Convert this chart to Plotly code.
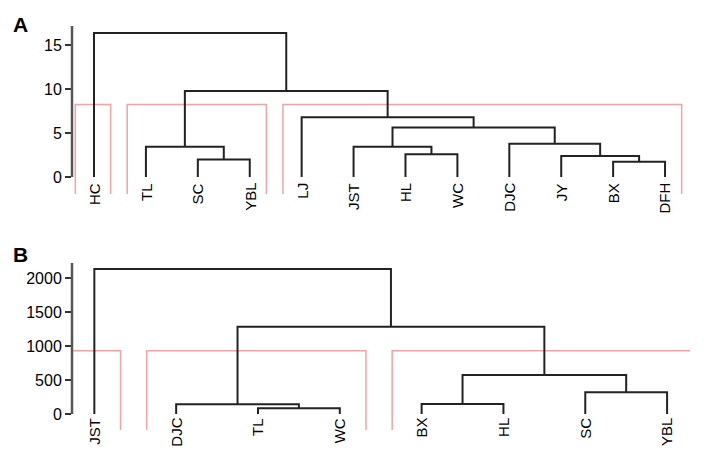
import plotly.graph_objects as go

# page has an 8px body margin; the figure fills the rest of the 710x452 window
OFF = 8
W, H = 710 - OFF, 452 - OFF

# ---------------- Data: panel A ----------------
leaves_A = ["HC", "TL", "SC", "YBL", "LJ", "JST", "HL", "WC", "DJC", "JY", "BX", "DFH"]
# merges: (left child, right child, height); indices >= n refer to earlier merges
merge_left_A = [2, 10, 9, 6, 1, 5, 8, 17, 4, 16, 0]
merge_right_A = [3, 11, 13, 7, 12, 15, 14, 18, 19, 20, 21]
merge_height_A = [2.0, 1.75, 2.4, 2.6, 3.45, 3.45, 3.8, 5.65, 6.8, 9.8, 16.4]
cut_A = 8.26
groups_A = [(0, 0), (1, 3), (4, 11)]
ticks_A = [0, 5, 10, 15]

# ---------------- Data: panel B ----------------
leaves_B = ["JST", "DJC", "TL", "WC", "BX", "HL", "SC", "YBL"]
merge_left_B = [2, 1, 4, 6, 10, 9, 0]
merge_right_B = [3, 8, 5, 7, 11, 12, 13]
merge_height_B = [84, 143, 147, 320, 575, 1287, 2137]
cut_B = 933
groups_B = [(0, 0), (1, 3), (4, 7)]
ticks_B = [0, 500, 1000, 1500, 2000]


def px_x(p):
    return (p - OFF) / W


def px_y(p):
    return 1 - (p - OFF) / H


def dendro_xy(leaves, left, right, heights):
    n = len(leaves)
    pos = [5 + 10 * i for i in range(n)]
    hts = [0.0] * n
    xs, ys = [], []
    for l, r, h in zip(left, right, heights):
        xl, xr = pos[l], pos[r]
        xs += [xl, xl, xr, xr, None]
        ys += [hts[l], h, h, hts[r], None]
        pos.append((xl + xr) / 2)
        hts.append(h)
    return xs, ys


def cut_xy(groups, cut, ybot):
    xs, ys = [], []
    for a, b in groups:
        x0 = 5 + 10 * a - 3.6
        x1 = 5 + 10 * b + 3.2
        xs += [x0, x0, x1, x1, None]
        ys += [ybot, cut, cut, ybot, None]
    return xs, ys


DARK = "#222222"
RED = "#f4a3a3"
FONT = "Liberation Sans, Arial, sans-serif"

fig = go.Figure()

yrA = [-1.93, 17.2]
yrB = [-236, 2230]

cx, cy = cut_xy(groups_A, cut_A, yrA[0] - 5)
fig.add_trace(go.Scatter(x=cx, y=cy, mode="lines", line=dict(color=RED, width=1.5),
                         xaxis="x", yaxis="y", hoverinfo="skip", showlegend=False))
cx, cy = cut_xy(groups_B, cut_B, yrB[0] - 500)
fig.add_trace(go.Scatter(x=cx, y=cy, mode="lines", line=dict(color=RED, width=1.5),
                         xaxis="x2", yaxis="y2", hoverinfo="skip", showlegend=False))

dx, dy = dendro_xy(leaves_A, merge_left_A, merge_right_A, merge_height_A)
fig.add_trace(go.Scatter(x=dx, y=dy, mode="lines", line=dict(color=DARK, width=2),
                         xaxis="x", yaxis="y", hoverinfo="skip", showlegend=False))
dx, dy = dendro_xy(leaves_B, merge_left_B, merge_right_B, merge_height_B)
fig.add_trace(go.Scatter(x=dx, y=dy, mode="lines", line=dict(color=DARK, width=2),
                         xaxis="x2", yaxis="y2", hoverinfo="skip", showlegend=False))

annotations = []
for i, name in enumerate(leaves_A):
    annotations.append(dict(x=5 + 10 * i, y=0, xref="x", yref="y", text=name,
                            textangle=-90, showarrow=False, yanchor="top", xanchor="center",
                            yshift=-4, font=dict(size=15, color="#000", family=FONT)))
for i, name in enumerate(leaves_B):
    annotations.append(dict(x=5 + 10 * i, y=0, xref="x2", yref="y2", text=name,
                            textangle=-90, showarrow=False, yanchor="top", xanchor="center",
                            yshift=-2, font=dict(size=15, color="#000", family=FONT)))
annotations.append(dict(x=px_x(11), y=px_y(11), xref="paper", yref="paper", text="<b>A</b>",
                        showarrow=False, xanchor="left", yanchor="top",
                        font=dict(size=21, color="#000", family=FONT)))
annotations.append(dict(x=px_x(11), y=px_y(241), xref="paper", yref="paper", text="<b>B</b>",
                        showarrow=False, xanchor="left", yanchor="top",
                        font=dict(size=21, color="#000", family=FONT)))

shapes = [
    dict(type="line", xref="paper", yref="y", x0=px_x(72), x1=px_x(72), y0=0, y1=yrA[1],
         line=dict(color="#555", width=2.5)),
    dict(type="line", xref="paper", yref="y2", x0=px_x(72), x1=px_x(72), y0=0, y1=yrB[1],
         line=dict(color="#555", width=2.5)),
]

yaxis_common = dict(showgrid=False, zeroline=False, showline=False, ticks="outside",
                    ticklen=6, tickwidth=2, tickcolor="#333", automargin=False,
                    tickfont=dict(size=16, color="#000", family=FONT))

fig.update_layout(
    width=W, height=H, margin=dict(l=0, r=0, t=0, b=0),
    paper_bgcolor="white", plot_bgcolor="white",
    xaxis=dict(domain=[px_x(72), px_x(691)], range=[0.76, 120.0], visible=False,
               automargin=False),
    yaxis=dict(domain=[px_y(194), px_y(26)], range=yrA, tickvals=ticks_A, **yaxis_common),
    xaxis2=dict(domain=[px_x(72), px_x(690)], range=[2.27, 77.8], visible=False, anchor="y2",
                automargin=False),
    yaxis2=dict(domain=[px_y(430), px_y(262.7)], range=yrB, tickvals=ticks_B,
                anchor="x2", **yaxis_common),
    annotations=annotations,
    shapes=shapes,
)

fig.write_html("out.html")
